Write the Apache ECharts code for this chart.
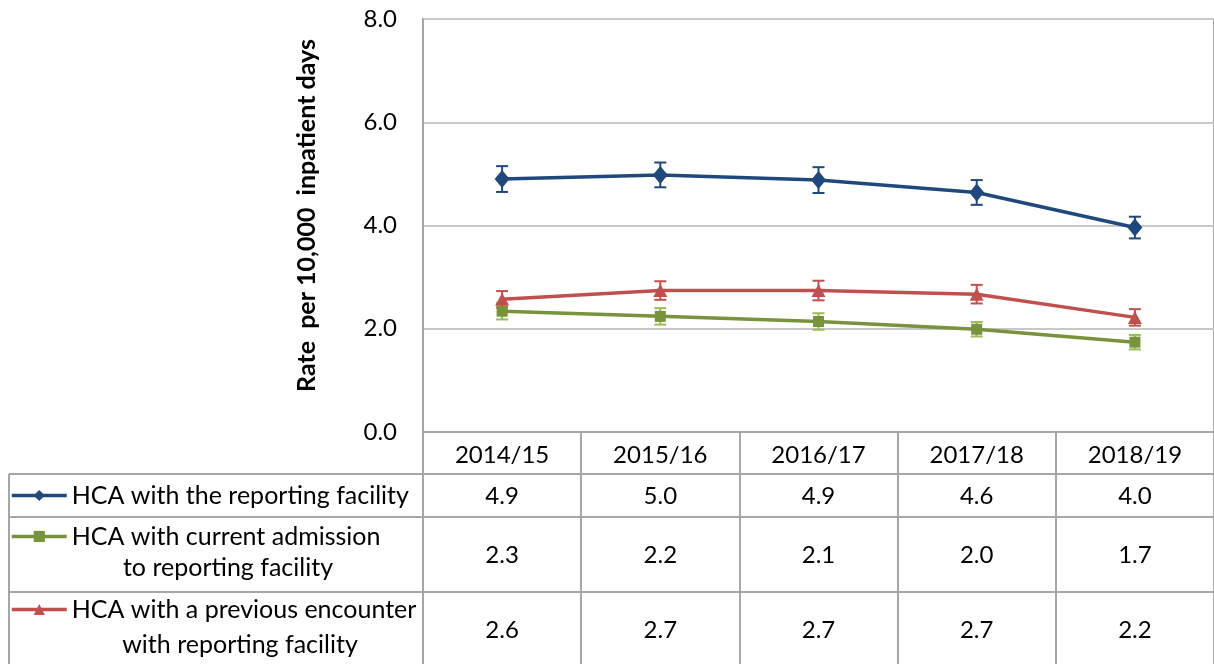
<!DOCTYPE html>
<html>
<head>
<meta charset="utf-8">
<script src="https://cdn.jsdelivr.net/npm/echarts@6/dist/echarts.min.js"></script>
<style>
  * { margin: 0; padding: 0; }
  body { background: #fff; }
  #chart { width: 1214px; height: 664px; }
</style>
</head>
<body>
<div id="chart"></div>
<script>
// data
var years = ['2014/15', '2015/16', '2016/17', '2017/18', '2018/19'];
var reportingFacility = [4.9, 4.98, 4.88, 4.64, 3.96];
var currentAdmission = [2.34, 2.24, 2.14, 1.99, 1.74];
var previousEncounter = [2.57, 2.74, 2.74, 2.67, 2.22];
// error bar half widths
var reportingErr = [0.25, 0.24, 0.25, 0.24, 0.21];
var currentErr = [0.16, 0.16, 0.16, 0.14, 0.14];
var previousErr = [0.16, 0.18, 0.19, 0.18, 0.16];
var yTicks = [0, 2, 4, 6, 8];

var names = [
  'HCA with the reporting facility',
  'HCA with current admission\nto reporting facility',
  'HCA with a previous encounter\nwith reporting facility'
];
var colors = ['#1F497D', '#77933C', '#C0504D'];
var errColors = ['#1F497D', '#9BBB59', '#C0504D'];

var font = 'Lato, "Open Sans", sans-serif';
var gridColor = '#A6A6A6';

function errSeries(idx, values, errs) {
  return {
    type: 'custom',
    name: names[idx] + ' err',
    z: 1,
    silent: true,
    data: values.map(function (v, i) { return [i, v - errs[i], v + errs[i]]; }),
    renderItem: function (params, api) {
      var lo = api.coord([api.value(0), api.value(1)]);
      var hi = api.coord([api.value(0), api.value(2)]);
      var w = 6;
      var st = { stroke: errColors[idx], lineWidth: 2 };
      return {
        type: 'group',
        children: [
          { type: 'line', shape: { x1: lo[0], y1: lo[1], x2: hi[0], y2: hi[1] }, style: st },
          { type: 'line', shape: { x1: lo[0] - w, y1: lo[1], x2: lo[0] + w, y2: lo[1] }, style: st },
          { type: 'line', shape: { x1: hi[0] - w, y1: hi[1], x2: hi[0] + w, y2: hi[1] }, style: st }
        ]
      };
    }
  };
}

function lineSeries(idx, values, symbol, size) {
  return {
    type: 'line',
    name: names[idx],
    z: 3,
    data: values,
    symbol: symbol,
    symbolSize: size,
    showAllSymbol: true,
    lineStyle: { color: colors[idx], width: 3.5 },
    itemStyle: { color: colors[idx] }
  };
}

function fmt(v) { return v.toFixed(1); }

function legendFor(idx, top) {
  return {
    left: 10,
    top: top,
    padding: 0,
    itemWidth: 55,
    itemHeight: 14,
    selectedMode: false,
    data: [names[idx]],
    lineStyle: { width: 3.5 },
    formatter: function (n) { return n.split('\n')[0]; },
    textStyle: { fontFamily: font, fontSize: 25, color: '#000' }
  };
}

var chart = echarts.init(document.getElementById('chart'));

var tableLine = { stroke: gridColor, lineWidth: 2 };

chart.setOption({
  animation: false,
  backgroundColor: '#fff',
  grid: {
    left: 423, top: 19, width: 794, bottom: 232,
    show: true, borderColor: gridColor, borderWidth: 2,
    containLabel: false
  },
  legend: [legendFor(0, 483), legendFor(1, 524), legendFor(2, 597)],
  xAxis: {
    type: 'category',
    data: years,
    axisLine: { show: true, lineStyle: { color: gridColor, width: 2 } },
    axisTick: { show: true, length: 240, lineStyle: { color: gridColor, width: 2 } },
    splitLine: { show: false },
    axisLabel: {
      margin: 2,
      interval: 0,
      formatter: function (v, i) {
        return '{y|' + v + '}\n{a|' + fmt(reportingFacility[i]) + '}\n{b|' +
          fmt(currentAdmission[i]) + '}\n{c|' + fmt(previousEncounter[i]) + '}';
      },
      rich: {
        y: { fontFamily: font, fontSize: 24, color: '#000', lineHeight: 42 },
        a: { fontFamily: font, fontSize: 24, color: '#000', lineHeight: 40 },
        b: { fontFamily: font, fontSize: 24, color: '#000', lineHeight: 78 },
        c: { fontFamily: font, fontSize: 24, color: '#000', lineHeight: 72 }
      }
    }
  },
  yAxis: {
    type: 'value',
    min: yTicks[0],
    max: yTicks[yTicks.length - 1],
    interval: 2,
    name: 'Rate  per 10,000  inpatient days',
    nameLocation: 'middle',
    nameGap: 104,
    nameTextStyle: {
      fontFamily: font, fontSize: 25, fontWeight: 'bold', color: '#000',
      padding: [0, 0, 0, 20]
    },
    axisLine: { show: true, lineStyle: { color: gridColor, width: 2 } },
    axisTick: { show: false },
    axisLabel: {
      margin: 26,
      fontFamily: font, fontSize: 24, color: '#000',
      formatter: function (v) { return v.toFixed(1); }
    },
    splitLine: { lineStyle: { color: '#C8C8C8', width: 2 } }
  },
  graphic: [
    { type: 'line', shape: { x1: 9, y1: 474, x2: 1214, y2: 474 }, style: tableLine },
    { type: 'line', shape: { x1: 9, y1: 517, x2: 1214, y2: 517 }, style: tableLine },
    { type: 'line', shape: { x1: 9, y1: 592, x2: 1214, y2: 592 }, style: tableLine },
    { type: 'line', shape: { x1: 9, y1: 474, x2: 9, y2: 664 }, style: tableLine },
    {
      type: 'text', x: 228, y: 568,
      style: { text: names[1].split('\n')[1], font: '25px ' + font, fill: '#000', align: 'center', verticalAlign: 'middle' }
    },
    {
      type: 'text', x: 240, y: 645,
      style: { text: names[2].split('\n')[1], font: '25px ' + font, fill: '#000', align: 'center', verticalAlign: 'middle' }
    }
  ],
  series: [
    errSeries(0, reportingFacility, reportingErr),
    errSeries(1, currentAdmission, currentErr),
    errSeries(2, previousEncounter, previousErr),
    lineSeries(0, reportingFacility, 'diamond', [15, 18]),
    lineSeries(1, currentAdmission, 'rect', 11),
    lineSeries(2, previousEncounter, 'triangle', [14, 13])
  ]
});
</script>
</body>
</html>
